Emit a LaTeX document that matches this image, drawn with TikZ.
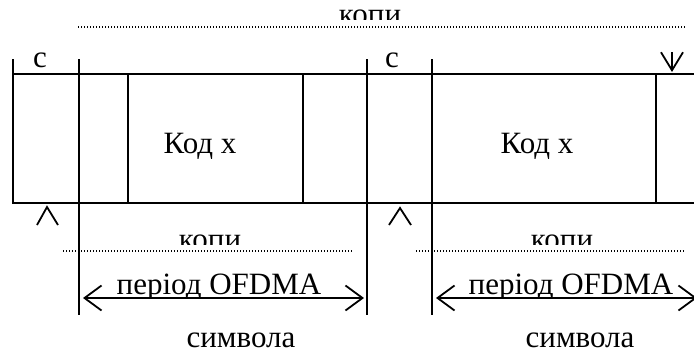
\documentclass[tikz,border=0pt]{standalone}
\usepackage{fontspec}
\setmainfont{Liberation Serif}
\usetikzlibrary{arrows.meta}
\begin{document}
\begin{tikzpicture}[x=1bp,y=-1bp,
  frameline/.style={line width=1.8bp, black},
  dotline/.style={line width=1.2bp, dash pattern=on 1.2bp off 1.8bp},
  lbl/.style={font=\fontsize{31bp}{36bp}\selectfont, inner sep=0pt, anchor=base},
  tipbarb/.style={line width=1.8bp, -{Straight Barb[length=18bp,width=22bp]}},
  caret/.style={line width=1.8bp, line join=miter},
  dbarb/.style={line width=1.8bp, {Straight Barb[length=17bp,width=25bp]}-{Straight Barb[length=17bp,width=25bp]}}]
\useasboundingbox (0,0) rectangle (694,354);
% frame coordinates
\coordinate (tl) at (13,74);
\coordinate (tr) at (694,74);
\coordinate (bl) at (13,203);
\coordinate (br) at (694,203);
\coordinate (tick) at (13,59);
\coordinate (a1) at (79,59);   \coordinate (a2) at (79,315);
\coordinate (b1) at (128,74);  \coordinate (b2) at (128,203);
\coordinate (c1) at (303,74);  \coordinate (c2) at (303,203);
\coordinate (d1) at (367,59);  \coordinate (d2) at (367,315);
\coordinate (e1) at (432,59);  \coordinate (e2) at (432,315);
\coordinate (f1) at (656,74);  \coordinate (f2) at (656,203);
\draw[frameline] (tr) -- (tl) -- (tick);
\draw[frameline] (tl) -- (bl) -- (br);
\draw[frameline] (a1) -- (a2);
\draw[frameline] (b1) -- (b2);
\draw[frameline] (c1) -- (c2);
\draw[frameline] (d1) -- (d2);
\draw[frameline] (e1) -- (e2);
\draw[frameline] (f1) -- (f2);
% dotted lines
\coordinate (dt1) at (78,27);  \coordinate (dt2) at (687,27);
\coordinate (db1) at (63,251); \coordinate (db2) at (352,251);
\coordinate (db3) at (416,251);\coordinate (db4) at (686,251);
\draw[dotline] (dt1) -- (dt2);
\draw[dotline] (db1) -- (db2);
\draw[dotline] (db3) -- (db4);
% small arrows
\coordinate (v1) at (672,52);  \coordinate (v2) at (672,72);
\draw[tipbarb] (v1) -- (v2);
\coordinate (u1) at (37,225);  \coordinate (ut) at (47,207);  \coordinate (u2) at (58,225);
\coordinate (w1) at (389,225); \coordinate (wt) at (400,208); \coordinate (w2) at (411,225);
\draw[caret] (u1) -- (ut) -- (u2);
\draw[caret] (w1) -- (wt) -- (w2);
% period arrows
\coordinate (p1) at (83,298);  \coordinate (p2) at (364,298);
\coordinate (p3) at (436,298); \coordinate (p4) at (697,298);
\draw[dbarb] (p1) -- (p2);
\draw[dbarb] (p3) -- (p4);
% labels
\node[lbl] (lc1) at (40,67) {с};
\node[lbl] (lc2) at (392,67) {с};
\node[lbl] (kod1) at (200,153) {Код х};
\node[lbl] (kod2) at (537,153) {Код х};
\begin{scope}
\clip (0,0) rectangle (694,296);
\node[lbl] (per1) at (219,294) {період OFDMA};
\node[lbl] (per2) at (571,294) {період OFDMA};
\end{scope}
\node[lbl] (sym1) at (241,347) {символа};
\node[lbl] (sym2) at (580,347) {символа};
\begin{scope}
\clip (0,0) rectangle (694,19.5);
\node[lbl] (kop1) at (370,24) {копи};
\end{scope}
\begin{scope}
\clip (0,200) rectangle (694,244);
\node[lbl] (kop2) at (210,249) {копи};
\node[lbl] (kop3) at (562,249) {копи};
\end{scope}
\end{tikzpicture}
\end{document}
